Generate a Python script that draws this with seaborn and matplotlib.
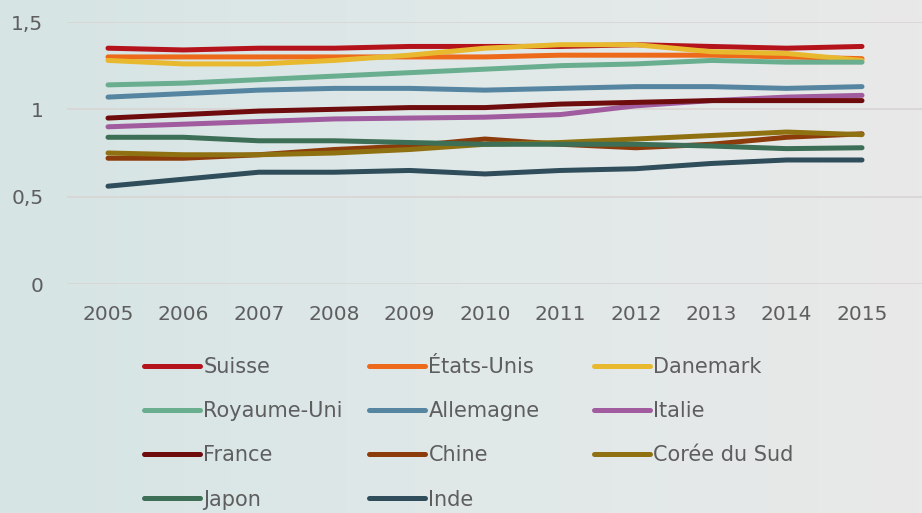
import numpy as np
import pandas as pd
import matplotlib
matplotlib.use("Agg")
import matplotlib.pyplot as plt
import seaborn as sns
from matplotlib.lines import Line2D
from matplotlib.colors import LinearSegmentedColormap

years = [2005, 2006, 2007, 2008, 2009, 2010, 2011, 2012, 2013, 2014, 2015]

suisse      = [1.35, 1.34, 1.35, 1.35, 1.36, 1.36, 1.36, 1.37, 1.36, 1.35, 1.36]
etats_unis  = [1.30, 1.30, 1.30, 1.30, 1.30, 1.30, 1.31, 1.31, 1.31, 1.30, 1.29]
danemark    = [1.28, 1.26, 1.26, 1.28, 1.31, 1.35, 1.37, 1.37, 1.33, 1.32, 1.28]
royaume_uni = [1.14, 1.15, 1.17, 1.19, 1.21, 1.23, 1.25, 1.26, 1.28, 1.27, 1.27]
allemagne   = [1.07, 1.09, 1.11, 1.12, 1.12, 1.11, 1.12, 1.13, 1.13, 1.12, 1.13]
italie      = [0.90, 0.915, 0.93, 0.945, 0.95, 0.955, 0.97, 1.02, 1.05, 1.07, 1.08]
france      = [0.95, 0.97, 0.99, 1.00, 1.01, 1.01, 1.03, 1.04, 1.05, 1.05, 1.05]
chine       = [0.72, 0.72, 0.74, 0.77, 0.79, 0.83, 0.80, 0.78, 0.80, 0.84, 0.86]
coree       = [0.75, 0.74, 0.74, 0.75, 0.77, 0.80, 0.81, 0.83, 0.85, 0.87, 0.855]
japon       = [0.84, 0.84, 0.82, 0.82, 0.81, 0.80, 0.80, 0.80, 0.79, 0.775, 0.78]
inde        = [0.56, 0.60, 0.64, 0.64, 0.65, 0.63, 0.65, 0.66, 0.69, 0.71, 0.71]

countries = ["Suisse", "États-Unis", "Danemark", "Royaume-Uni", "Allemagne",
             "Italie", "France", "Chine", "Corée du Sud", "Japon", "Inde"]
values = [suisse, etats_unis, danemark, royaume_uni, allemagne,
          italie, france, chine, coree, japon, inde]
colors = ["#B5131B", "#EC6A1A", "#E8B82E", "#6AAE90", "#5585A0",
          "#A05C9E", "#6E0B0C", "#8C3B0B", "#8F7112", "#3D6E56", "#2F4D5A"]

ytick_values = [0, 0.5, 1, 1.5]
ytick_labels = ["0", "0,5", "1", "1,5"]

rows = []
for name, vals in zip(countries, values):
    for y, v in zip(years, vals):
        rows.append({"Année": y, "Valeur": v, "Pays": name})
df = pd.DataFrame(rows)

sns.set_theme(style="white")
plt.rcParams["font.family"] = ["DejaVu Sans"]
text_color = "#5e5e5e"

W, H = 922, 513
fig = plt.figure(figsize=(W / 100, H / 100), dpi=100)

# background gradient
bg = fig.add_axes([0, 0, 1, 1], zorder=-10)
grad = np.linspace(0, 1, 256).reshape(1, -1)
cmap = LinearSegmentedColormap.from_list("bg", ["#d6e4e4", "#e0e8e8", "#e9e9e9"])
bg.imshow(grad, aspect="auto", cmap=cmap, extent=[0, 1, 0, 1])
bg.axis("off")

left_px, right_px, top_px, bottom_px = 67, 922, 22, 284
ax = fig.add_axes([left_px / W, 1 - bottom_px / H,
                   (right_px - left_px) / W, (bottom_px - top_px) / H])
ax.patch.set_alpha(0)

sns.lineplot(data=df, x="Année", y="Valeur", hue="Pays", hue_order=countries,
             palette=colors, linewidth=3.6, legend=False, errorbar=None, ax=ax)
for line in ax.lines:
    line.set_solid_capstyle("round")
    line.set_solid_joinstyle("round")
    line.set_clip_on(False)

px_per_year = (862 - 108) / 10
ax.set_xlim(2005 - (108 - left_px) / px_per_year, 2015 + (right_px - 862) / px_per_year)
ax.set_ylim(0, 1.5)
ax.set_xticks(years)
ax.set_xticklabels([str(y) for y in years])
ax.set_yticks(ytick_values)
ax.set_yticklabels(ytick_labels)
ax.set_xlabel("")
ax.set_ylabel("")
ax.grid(axis="y", color="#dad4d4", linewidth=1.2)
ax.grid(axis="x", visible=False)
ax.set_axisbelow(True)
for s in ax.spines.values():
    s.set_visible(False)
ax.tick_params(axis="both", length=0, labelsize=14.5, colors=text_color)
ax.tick_params(axis="x", pad=15)
ax.tick_params(axis="y", pad=17)

# legend: three columns at equal spacing
handles = {n: Line2D([0], [0], color=c, lw=3.6, solid_capstyle="round")
           for n, c in zip(countries, colors)}
cols = [["Suisse", "Royaume-Uni", "France", "Japon"],
        ["États-Unis", "Allemagne", "Chine", "Inde"],
        ["Danemark", "Italie", "Corée du Sud"]]
col_x = [144, 369, 594]
for cx, names in zip(col_x, cols):
    fig.legend([handles[n] for n in names], names,
               loc="upper left", bbox_to_anchor=(cx / W, 1 - 357 / H),
               frameon=False, fontsize=15, handlelength=2.7,
               handletextpad=0.15, borderpad=0, borderaxespad=0,
               labelspacing=1.16, labelcolor=text_color)

fig.savefig("out.png", dpi=100)
